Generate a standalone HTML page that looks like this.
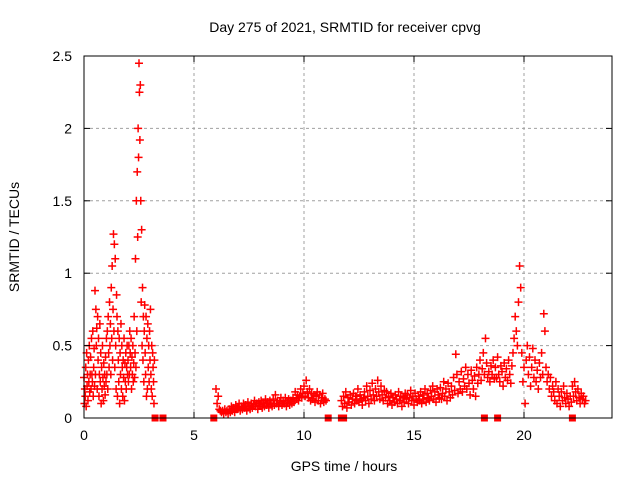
<!DOCTYPE html>
<html><head><meta charset="utf-8"><style>
body{margin:0;background:#fff}
svg text{font-family:"Liberation Sans",sans-serif;font-size:14px;fill:#000}
</style></head><body>
<svg width="640" height="480">
<rect x="0" y="0" width="640" height="480" fill="#fff"/>
<g id="grid"></g><g id="marks"></g><g id="axes"></g>
</svg>
<script>
const xTicks=[0,5,10,15,20];
const yTicks=[0,0.5,1,1.5,2,2.5];
const yTickLabels=["0","0.5","1","1.5","2","2.5"];
const segAStart=0, segAStep=0.02;
const segAValues=[0.28,0.1,0.2,0.15,0.35,0.08,0.45,0.22,0.3,0.12,0.4,0.25,0.5,0.18,0.3,0.42,0.2,0.55,0.3,0.25,0.6,0.15,0.35,0.48,0.22,
0.88,0.3,0.75,0.5,0.62,0.2,0.7,0.4,0.55,0.15,0.3,0.65,0.25,0.45,0.1,0.35,0.2,0.5,0.28,0.12,0.38,0.22,0.3,0.16,0.42,
0.25,0.55,0.3,0.6,0.2,0.7,0.45,0.35,0.8,0.5,0.65,0.3,0.9,0.55,1.05,0.4,0.75,1.27,0.6,1.2,0.35,1.1,0.5,0.2,0.85,
0.7,0.15,0.6,0.4,0.25,0.55,0.1,0.45,0.3,0.65,0.2,0.5,0.35,0.15,0.4,0.28,0.55,0.12,0.38,0.25,0.45,0.2,0.35,0.5,0.3,
0.4,0.25,0.5,0.3,0.6,0.45,0.35,0.55,0.2,0.42,0.3,0.5,0.25,0.38,0.7,0.28,0.45,1.1,0.35,1.5,0.6,1.7,1.25,2.0,1.8,
2.45,2.25,1.92,2.3,1.5,0.8,1.3,0.5,0.9,0.4,0.7,0.25,0.6,0.78,0.45,0.3,0.7,0.15,0.55,0.2,0.65,0.35,0.5,0.25,0.6,
0.4,0.75,0.3,0.2,0.5,0.15,0.45,0.35,0.25,0.1,0.4];
const segBStart=6.0, segBStep=0.05;
const segBValues=[0.2,0.1,0.15,0.06,0.05,0.04,0.05,0.03,0.06,0.04,0.05,0.03,0.06,0.04,0.08,0.05,0.07,0.04,0.09,0.06,
0.07,0.1,0.05,0.08,0.06,0.1,0.07,0.09,0.05,0.11,0.08,0.06,0.1,0.07,0.09,0.12,0.08,0.1,0.06,0.11,
0.09,0.12,0.07,0.1,0.08,0.13,0.09,0.11,0.07,0.12,0.1,0.08,0.13,0.09,0.16,0.1,0.12,0.08,0.11,0.14,
0.09,0.12,0.1,0.14,0.08,0.11,0.13,0.09,0.12,0.1,0.14,0.11,0.18,0.13,0.16,0.12,0.15,0.2,0.14,0.17,
0.22,0.15,0.26,0.18,0.14,0.2,0.12,0.17,0.13,0.16,0.11,0.15,0.18,0.12,0.16,0.1,0.14,0.17,0.11,0.13,0.12];
const segCStart=11.7, segCStep=0.05;
const segCValues=[0.12,0.08,0.15,0.1,0.18,0.07,0.14,0.11,0.16,0.09,
0.13,0.17,0.1,0.15,0.12,0.2,0.11,0.16,0.13,0.09,
0.14,0.18,0.12,0.22,0.15,0.1,0.19,0.13,0.24,0.16,
0.12,0.2,0.15,0.26,0.18,0.13,0.22,0.16,0.12,0.19,
0.14,0.18,0.1,0.15,0.12,0.17,0.09,0.14,0.11,0.16,
0.13,0.1,0.18,0.12,0.15,0.08,0.14,0.11,0.17,0.13,
0.16,0.1,0.14,0.19,0.12,0.15,0.09,0.17,0.13,0.11,
0.15,0.12,0.18,0.1,0.16,0.13,0.2,0.11,0.17,0.14,
0.12,0.19,0.15,0.22,0.13,0.18,0.11,0.2,0.16,0.14,
0.21,0.13,0.17,0.25,0.15,0.2,0.12,0.24,0.18,0.14,
0.22,0.16,0.28,0.19,0.44,0.3,0.17,0.25,0.2,0.32,
0.18,0.27,0.22,0.35,0.2,0.3,0.24,0.16,0.33,0.26,
0.2,0.29,0.15,0.35,0.24,0.3,0.4,0.26,0.34,0.45,
0.3,0.55,0.38,0.28,0.32,0.25,0.36,0.3,0.4,0.27,
0.35,0.28,0.42,0.3,0.25,0.36,0.32,0.22,0.38,0.28,
0.34,0.26,0.4,0.3,0.24,0.36,0.45,0.55,0.7,0.6,
0.5,0.8,1.05,0.9,0.45,0.25,0.35,0.1,0.4,0.5,
0.3,0.42,0.22,0.35,0.48,0.28,0.4,0.25,0.33,0.2,
0.38,0.28,0.45,0.3,0.72,0.6,0.35,0.25,0.3,0.2,
0.28,0.15,0.22,0.18,0.12,0.25,0.1,0.2,0.15,0.08,
0.18,0.12,0.22,0.14,0.1,0.17,0.13,0.08,0.15,0.11,
0.22,0.15,0.25,0.18,0.12,0.2,0.14,0.1,0.17,0.13,
0.15,0.1,0.12];
const zeroTimes=[3.23,3.59,5.9,11.1,11.7,11.8,18.2,18.8,22.2];

const X0=84,X1=612,Y0=418,Y1=56,XMAX=24,YMAX=2.5;
const xs=v=>X0+(X1-X0)*v/XMAX;
const ys=v=>Y0-(Y0-Y1)*v/YMAX;
const NS="http://www.w3.org/2000/svg";
function mk(tag,attrs,parent){const e=document.createElementNS(NS,tag);for(const k in attrs)e.setAttribute(k,attrs[k]);parent.appendChild(e);return e;}
const grid=document.getElementById('grid'),marks=document.getElementById('marks'),axes=document.getElementById('axes');
const svg=document.querySelector('svg');

xTicks.forEach(t=>{
  if(t>0){const g=mk('line',{x1:xs(t),x2:xs(t),y1:Y0,y2:Y1,stroke:'#a0a0a0','stroke-dasharray':'3,3'},grid);
  
  }
  mk('line',{x1:xs(t),x2:xs(t),y1:Y0,y2:Y0-6,stroke:'#000'},axes);
  mk('line',{x1:xs(t),x2:xs(t),y1:Y1,y2:Y1+6,stroke:'#000'},axes);
  const l=mk('text',{x:xs(t),y:Y0+22,'text-anchor':'middle'},axes);l.textContent=t;
  
  
});
yTicks.forEach((t,i)=>{
  if(t>0&&t<YMAX){const g=mk('line',{x1:X0,x2:X1,y1:ys(t),y2:ys(t),stroke:'#a0a0a0','stroke-dasharray':'3,3'},grid);
  
  }
  mk('line',{x1:X0,x2:X0+6,y1:ys(t),y2:ys(t),stroke:'#000'},axes);
  mk('line',{x1:X1,x2:X1-6,y1:ys(t),y2:ys(t),stroke:'#000'},axes);
  const l=mk('text',{x:X0-12,y:ys(t)+5,'text-anchor':'end'},axes);l.textContent=yTickLabels[i];
  
  
});
const frame=mk('rect',{x:X0,y:Y1,width:X1-X0,height:Y0-Y1,fill:'none',stroke:'#000'},axes);



function plus(t,v){
  const x=xs(t),y=ys(v);
  const p=mk('path',{d:`M${x-4},${y}H${x+4}M${x},${y-4}V${y+4}`,stroke:'#f00','stroke-width':1.5,fill:'none'},marks);
  
  
}
[[segAStart,segAStep,segAValues],[segBStart,segBStep,segBValues],[segCStart,segCStep,segCValues]].forEach(([s,d,vals])=>{
  vals.forEach((v,i)=>plus(s+i*d,v));
});
zeroTimes.forEach(t=>{
  const r=mk('rect',{x:xs(t)-3.5,y:Y0-3.5,width:7,height:7,fill:'#f00'},marks);
  
  
});

const title=mk('text',{x:345,y:32,'text-anchor':'middle'},svg);title.textContent='Day 275 of 2021, SRMTID for receiver cpvg';


const xl=mk('text',{x:344,y:471,'text-anchor':'middle'},svg);xl.textContent='GPS time / hours';


const yl=mk('text',{x:0,y:0,'text-anchor':'middle',transform:'translate(19,237) rotate(-90)'},svg);yl.textContent='SRMTID / TECUs';


</script>
</body></html>
